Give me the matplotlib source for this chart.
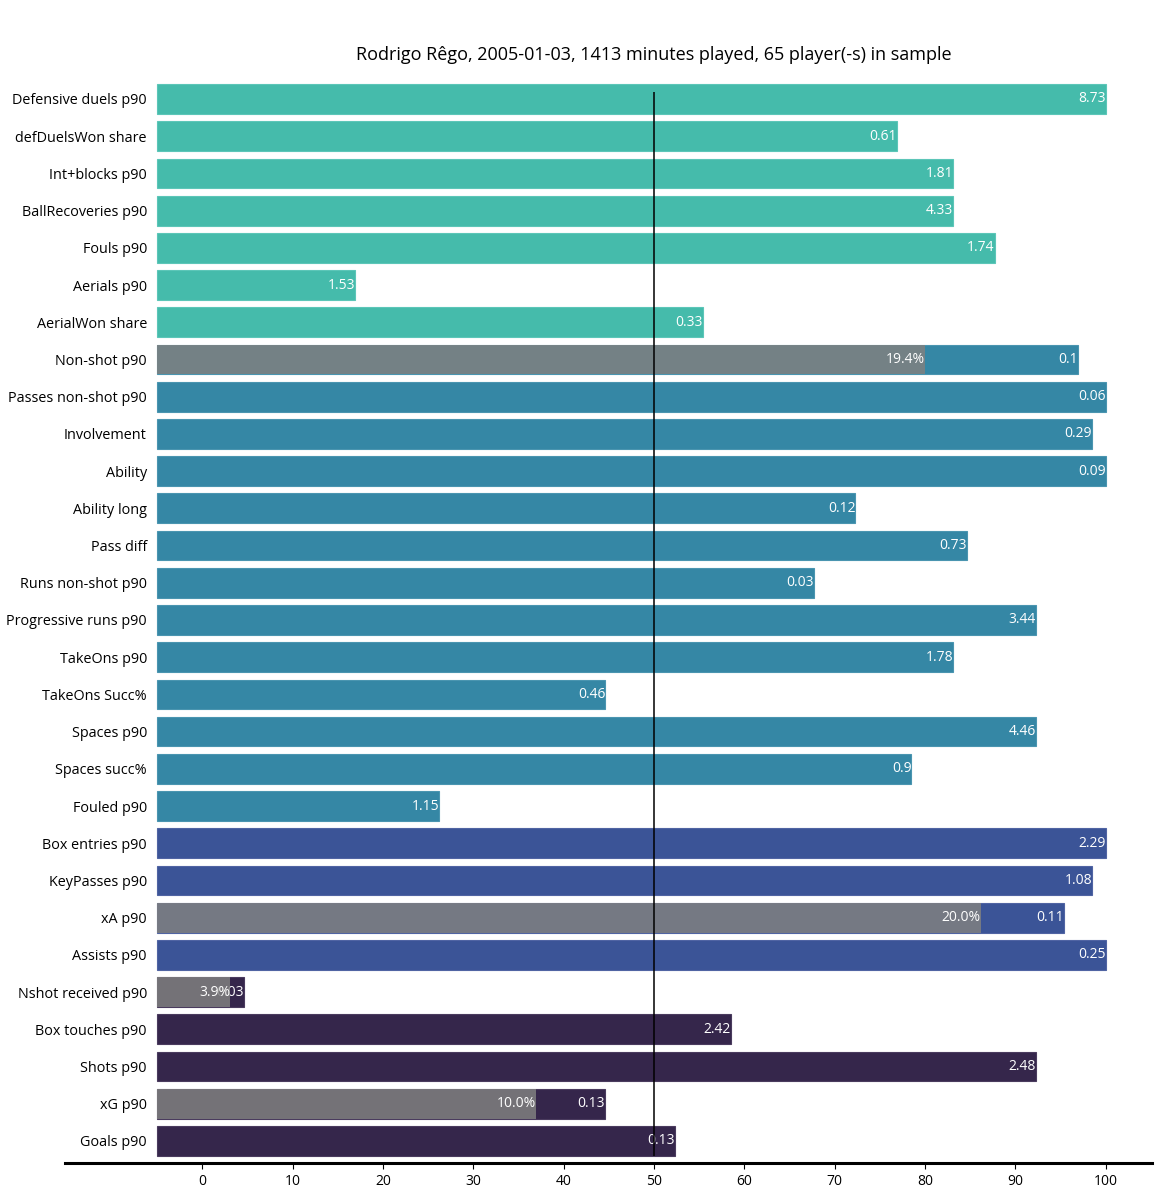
import matplotlib.pyplot as plt

plt.rcParams['font.family'] = ['Open Sans', 'DejaVu Sans']

metrics = ['Defensive duels p90', 'defDuelsWon share', 'Int+blocks p90', 'BallRecoveries p90',
           'Fouls p90', 'Aerials p90', 'AerialWon share', 'Non-shot p90', 'Passes non-shot p90',
           'Involvement', 'Ability', 'Ability long', 'Pass diff', 'Runs non-shot p90',
           'Progressive runs p90', 'TakeOns p90', 'TakeOns Succ%', 'Spaces p90', 'Spaces succ%',
           'Fouled p90', 'Box entries p90', 'KeyPasses p90', 'xA p90', 'Assists p90',
           'Nshot received p90', 'Box touches p90', 'Shots p90', 'xG p90', 'Goals p90']
percentile = [100, 76.9, 83.1, 83.1, 87.7, 16.9, 55.4, 96.9, 100, 98.5, 100, 72.3, 84.6, 67.7,
              92.3, 83.1, 44.6, 92.3, 78.5, 26.2, 100, 98.5, 95.4, 100, 4.6, 58.5, 92.3, 44.6, 52.3]
raw_value = ['8.73', '0.61', '1.81', '4.33', '1.74', '1.53', '0.33', '0.1', '0.06', '0.29', '0.09',
             '0.12', '0.73', '0.03', '3.44', '1.78', '0.46', '4.46', '0.9', '1.15', '2.29', '1.08',
             '0.11', '0.25', '0.03', '2.42', '2.48', '0.13', '0.13']
group = ['def'] * 7 + ['pass'] * 13 + ['create'] * 4 + ['shot'] * 5
# share-of-total overlays: row name, percentile, share label
share_rows = ['Non-shot p90', 'xA p90', 'Nshot received p90', 'xG p90']
share_pct = [80.0, 86.2, 3.1, 36.9]
share_label = ['19.4%', '20.0%', '3.9%', '10.0%']

colors = {'def': '#45bbab', 'pass': '#3587a5', 'create': '#3b5497', 'shot': '#35264b'}
edges = {'def': '#5cc6b8', 'pass': '#4a95b0', 'create': '#5064a3', 'shot': '#4a3b5e'}

fig = plt.figure(figsize=(11.61, 11.98), dpi=100)
ax = fig.add_axes([0.056, 0.029, 0.936, 0.907])

ypos = list(range(len(metrics)))
base = -5
for y, p, g in zip(ypos, percentile, group):
    ax.barh(y, p - base, left=base, height=0.8, color=colors[g], edgecolor=edges[g], linewidth=0.8)

for y, p, v in zip(ypos, percentile, raw_value):
    ax.text(p, y, v, ha='right', va='center', color='white', fontsize=10, zorder=1.5)

for name, p, lab in zip(share_rows, share_pct, share_label):
    y = metrics.index(name)
    ax.barh(y, p - base, left=base, height=0.8, color='#808080', alpha=0.85, linewidth=0, zorder=2)
    ax.text(p, y, lab, ha='right', va='center', color='white', fontsize=10, zorder=3)

ax.vlines(50, -0.2, len(metrics) - 0.6, color='black', linewidth=1.1, zorder=4)

ax.set_xlim(-15.2, 105.1)
ax.set_ylim(len(metrics) - 0.4, -0.6)
ax.set_yticks(ypos)
ax.set_yticklabels(metrics, fontsize=10.4)
ax.set_xticks(range(0, 101, 10))
ax.tick_params(axis='x', labelsize=10, length=4, width=0.8)
ax.tick_params(axis='y', length=0, pad=-59)
for s in ['top', 'right', 'left']:
    ax.spines[s].set_visible(False)
ax.spines['bottom'].set_linewidth(2.2)

fig.text(0.563, 0.9545, 'Rodrigo Rêgo, 2005-01-03, 1413 minutes played, 65 player(-s) in sample',
         ha='center', va='center', fontsize=13)

fig.savefig('out.png', dpi=100)
